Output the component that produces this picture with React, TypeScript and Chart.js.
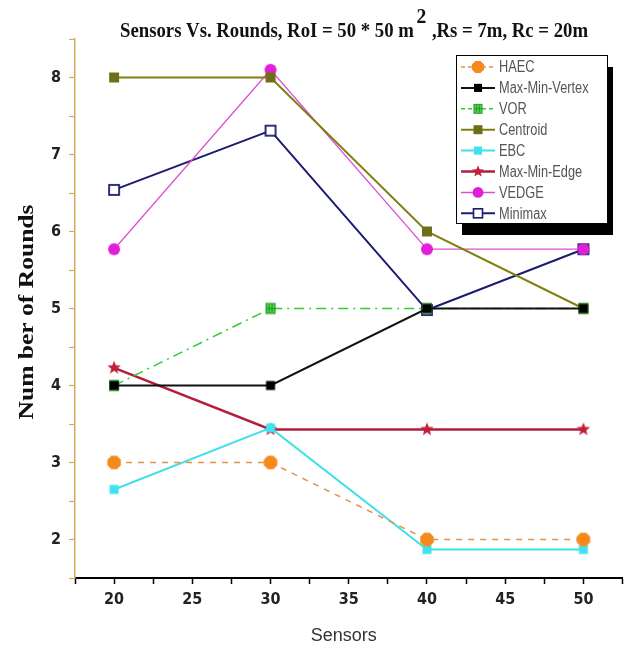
import React, { useEffect, useRef } from 'react';
import { Chart, registerables } from 'chart.js';

Chart.register(...registerables);

// ---------- data ----------
const sensors = [20, 30, 40, 50];
const haec = [3, 3, 2, 2];
const maxMinVertex = [4, 4, 5, 5];
const vor = [4, 5, 5, 5];
const centroid = [8, 8, 6, 5];
const ebc = [2.65, 3.45, 1.87, 1.87];
const maxMinEdge = [4.23, 3.43, 3.43, 3.43];
const vedge = [5.77, 8.1, 5.77, 5.77];
const minimax = [6.54, 7.31, 4.98, 5.77];

const seriesNames = ['HAEC', 'Max-Min-Vertex', 'VOR', 'Centroid', 'EBC', 'Max-Min-Edge', 'VEDGE', 'Minimax'];
const seriesValues = [haec, maxMinVertex, vor, centroid, ebc, maxMinEdge, vedge, minimax];
const seriesColors = ['#e0944a', '#111111', '#33cc33', '#7f7f12', '#3fe0e8', '#b21e3c', '#d94fd6', '#1c1c6e'];
const seriesDash: number[][] = [[6, 6], [], [10, 5, 2, 5], [], [], [], [], []];
const seriesWidth = [1.5, 2, 1.5, 2, 2, 2.5, 1.3, 2];
const seriesMarker = ['haec', 'vertex', 'vor', 'centroid', 'ebc', 'star', 'vedge', 'minimax'];

const titleMain = 'Sensors Vs. Rounds, RoI = 50 * 50 m';
const titleSup = '2';
const titleRest = ' ,Rs = 7m, Rc = 20m';
const xTitle = 'Sensors';
const yTitle = 'Num ber of Rounds';

const xMin = 17.5, xMax = 52.5, xStep = 2.5, xLabelEvery = 5;
const yMin = 1.5, yMax = 8.5, yStep = 0.5, yLabelEvery = 1;

// ---------- markers ----------
function drawMarker(g: CanvasRenderingContext2D, kind: string) {
  switch (kind) {
    case 'haec': {
      g.fillStyle = '#f5891c';
      g.beginPath();
      for (let i = 0; i < 8; i++) {
        const a = (Math.PI / 8) + (i * Math.PI) / 4;
        const px = Math.cos(a) * 7.3, py = Math.sin(a) * 7.3;
        if (i === 0) g.moveTo(px, py); else g.lineTo(px, py);
      }
      g.closePath();
      g.fill();
      break;
    }
    case 'vertex':
      g.fillStyle = '#000';
      g.fillRect(-4.5, -4.5, 9, 9);
      break;
    case 'vor':
      g.fillStyle = '#4fd84f';
      g.fillRect(-4.5, -5, 9, 10);
      g.strokeStyle = '#1d8f1d';
      g.lineWidth = 1;
      g.strokeRect(-4.5, -5, 9, 10);
      g.beginPath();
      g.moveTo(-1.5, -4); g.lineTo(-1.5, 4);
      g.moveTo(1.5, -4); g.lineTo(1.5, 4);
      g.moveTo(-4, 0); g.lineTo(4, 0);
      g.stroke();
      break;
    case 'centroid':
      g.fillStyle = '#6f7016';
      g.fillRect(-5, -5, 10, 10);
      break;
    case 'ebc':
      g.fillStyle = '#3fe3ee';
      g.fillRect(-4.5, -4.5, 9, 9);
      break;
    case 'star': {
      g.fillStyle = '#c0203c';
      g.beginPath();
      for (let i = 0; i < 10; i++) {
        const r = i % 2 === 0 ? 7 : 3;
        const a = -Math.PI / 2 + (i * Math.PI) / 5;
        const px = Math.cos(a) * r, py = Math.sin(a) * r;
        if (i === 0) g.moveTo(px, py); else g.lineTo(px, py);
      }
      g.closePath();
      g.fill();
      break;
    }
    case 'vedge':
      g.fillStyle = '#e21fd8';
      g.beginPath();
      g.arc(0, 0, 6, 0, Math.PI * 2);
      g.fill();
      break;
    case 'minimax':
      g.fillStyle = '#fff';
      g.fillRect(-5, -5, 10, 10);
      g.strokeStyle = '#1c1c6e';
      g.lineWidth = 1.8;
      g.strokeRect(-5, -5, 10, 10);
      break;
  }
}

function makeMarker(kind: string): HTMLCanvasElement {
  const c = document.createElement('canvas');
  c.width = 20;
  c.height = 20;
  const g = c.getContext('2d')!;
  g.translate(10, 10);
  drawMarker(g, kind);
  return c;
}

const SERIF = '"Liberation Serif", "Times New Roman", serif';
const COND = '"DejaVu Sans Condensed", "Liberation Sans", Arial, sans-serif';
const SANS = '"Liberation Sans", Arial, sans-serif';

const decorPlugin = {
  id: 'decor',
  afterDraw(chart: any) {
    const ctx: CanvasRenderingContext2D = chart.ctx;
    const area = chart.chartArea;
    ctx.save();

    // ---- title ----
    ctx.fillStyle = '#111';
    ctx.textBaseline = 'alphabetic';
    ctx.textAlign = 'left';
    ctx.font = `bold 21px ${SERIF}`;
    const wMain = ctx.measureText(titleMain).width;
    const wRest = ctx.measureText(titleRest).width;
    ctx.font = `bold 22px ${SERIF}`;
    const wSup = ctx.measureText(titleSup).width;
    const total = wMain + wSup + wRest + 4;
    const targetW = 468;
    const sx = targetW / total;
    const left = 120;
    ctx.save();
    ctx.translate(left, 37);
    ctx.scale(sx, 1);
    ctx.font = `bold 21px ${SERIF}`;
    ctx.fillText(titleMain, 0, 0);
    ctx.font = `bold 22px ${SERIF}`;
    ctx.fillText(titleSup, wMain + 3, -14);
    ctx.font = `bold 21px ${SERIF}`;
    ctx.fillText(titleRest, wMain + wSup + 4, 0);
    ctx.restore();

    // ---- y title ----
    ctx.save();
    ctx.font = `bold 21px ${SERIF}`;
    const wy = ctx.measureText(yTitle).width;
    ctx.translate(33, 312);
    ctx.rotate(-Math.PI / 2);
    ctx.scale(215 / wy, 1);
    ctx.textAlign = 'center';
    ctx.fillStyle = '#111';
    ctx.fillText(yTitle, 0, 0);
    ctx.restore();

    // ---- x title ----
    ctx.save();
    ctx.font = `18px ${SANS}`;
    ctx.fillStyle = '#333';
    ctx.textAlign = 'center';
    ctx.fillText(xTitle, (area.left + area.right) / 2 - 5, 641);
    ctx.restore();

    // ---- legend ----
    const bx = 456, by = 55, bw = 151, bh = 168;
    ctx.fillStyle = '#000';
    ctx.fillRect(bx + 6, by + 12, bw, bh);
    ctx.fillStyle = '#fff';
    ctx.fillRect(bx, by, bw, bh);
    ctx.strokeStyle = '#000';
    ctx.lineWidth = 1;
    ctx.strokeRect(bx + 0.5, by + 0.5, bw, bh);
    ctx.textBaseline = 'middle';
    ctx.textAlign = 'left';
    seriesNames.forEach((name, i) => {
      const yy = 67 + i * 20.9;
      ctx.save();
      ctx.strokeStyle = seriesColors[i];
      ctx.lineWidth = Math.max(1.5, seriesWidth[i]);
      ctx.setLineDash(seriesDash[i].length ? [4, 3] : []);
      ctx.beginPath();
      ctx.moveTo(461, yy);
      ctx.lineTo(495, yy);
      ctx.stroke();
      ctx.restore();
      ctx.save();
      ctx.translate(478, yy);
      ctx.scale(0.9, 0.9);
      drawMarker(ctx, seriesMarker[i]);
      ctx.restore();
      ctx.save();
      ctx.font = `16px ${SANS}`;
      ctx.fillStyle = '#555';
      ctx.translate(499, yy + 1);
      ctx.scale(0.8, 1);
      ctx.fillText(name, 0, 0);
      ctx.restore();
    });

    ctx.restore();
  },
};

export default function App() {
  const ref = useRef<HTMLCanvasElement | null>(null);

  useEffect(() => {
    if (!ref.current) return;
    const datasets = seriesNames.map((name, i) => {
      const marker = makeMarker(seriesMarker[i]);
      return {
        label: name,
        data: sensors.map((s, j) => ({ x: s, y: seriesValues[i][j] })),
        borderColor: seriesColors[i],
        backgroundColor: seriesColors[i],
        borderWidth: seriesWidth[i],
        borderDash: seriesDash[i],
        pointStyle: marker as any,
        pointRadius: 7,
        pointHoverRadius: 7,
        tension: 0,
        fill: false,
        clip: false as any,
      };
    });

    const tickFont = { family: COND, size: 16, weight: 'bold' as const };

    const chart = new Chart(ref.current, {
      type: 'line',
      data: { datasets: datasets as any },
      options: {
        responsive: false,
        animation: false,
        devicePixelRatio: 1,
        layout: { padding: { top: 39, right: 6, left: 0, bottom: 0 } },
        plugins: {
          legend: { display: false },
          title: { display: false },
          tooltip: { enabled: false },
        },
        scales: {
          x: {
            type: 'linear',
            min: xMin,
            max: xMax,
            afterFit: (s: any) => { s.height = 75; },
            ticks: {
              stepSize: xStep,
              autoSkip: false,
              maxRotation: 0,
              padding: 6,
              color: '#222',
              font: tickFont,
              callback: (v: any) => (Math.abs(v % xLabelEvery) < 1e-6 ? String(v) : ''),
            },
            grid: {
              drawOnChartArea: false,
              drawTicks: true,
              tickLength: 6,
              tickColor: '#000',
              tickWidth: 1.5,
            },
            border: { color: '#000', width: 2 },
          },
          y: {
            type: 'linear',
            min: yMin,
            max: yMax,
            afterFit: (s: any) => { s.width = 75; },
            ticks: {
              stepSize: yStep,
              autoSkip: false,
              padding: 8,
              color: '#222',
              font: tickFont,
              callback: (v: any) => (Math.abs(v % yLabelEvery) < 1e-6 ? String(v) : ''),
            },
            grid: {
              drawOnChartArea: false,
              drawTicks: true,
              tickLength: 6,
              tickColor: '#d4ad5c',
              tickWidth: 1.2,
            },
            border: { color: '#d4ad5c', width: 1.5 },
          },
        },
      },
      plugins: [decorPlugin],
    });
    return () => chart.destroy();
  }, []);

  return (
    <div style={{ position: 'fixed', left: 0, top: 0, width: 632, height: 653, background: '#fff' }}>
      <canvas ref={ref} width={632} height={653} style={{ display: 'block' }} />
    </div>
  );
}
